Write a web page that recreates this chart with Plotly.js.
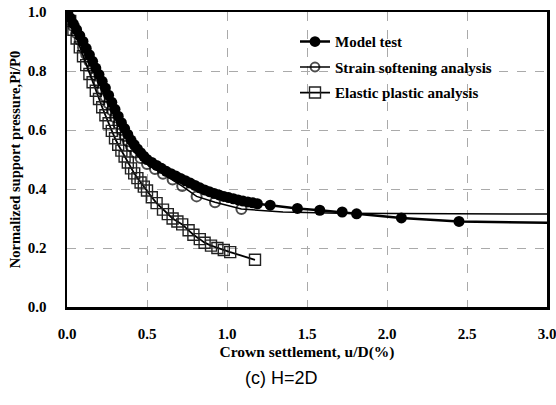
<!DOCTYPE html>
<html>
<head>
<meta charset="utf-8">
<script src="https://cdn.plot.ly/plotly-3.0.1.min.js"></script>
<style>html,body{margin:0;padding:0;background:#fff;}#chart{width:556px;height:405px;}</style>
</head>
<body>
<div id="chart"></div>
<script>
// Model test
const mtX = [0,0.02,0.04,0.06,0.08,0.10,0.12,0.14,0.16,0.18,0.20,0.22,0.24,0.26,0.28,0.30,0.32,0.34,0.36,0.38,0.40,0.42,0.44,0.46,0.48,0.50,
             0.53,0.56,0.59,0.62,0.65,0.68,0.71,0.74,0.77,0.80,0.83,0.86,0.89,0.92,0.95,0.98,1.01,1.04,1.07,1.10,1.13,1.16,1.19,
             1.27,1.44,1.58,1.72,1.81,2.09,2.45,3.05];
const mtY = [1.0,0.98,0.96,0.94,0.92,0.90,0.877,0.855,0.833,0.81,0.788,0.765,0.742,0.718,0.694,0.67,0.647,0.625,0.605,0.585,0.566,0.55,0.536,0.523,0.511,0.50,
             0.49,0.48,0.47,0.46,0.452,0.444,0.436,0.428,0.42,0.412,0.404,0.397,0.391,0.385,0.38,0.375,0.371,0.367,0.363,0.359,0.356,0.353,0.35,
             0.345,0.334,0.328,0.322,0.316,0.302,0.29,0.285];
// Strain softening analysis
const ssX = [0,0.02,0.04,0.06,0.08,0.10,0.12,0.14,0.16,0.18,0.20,0.22,0.24,0.26,0.28,0.30,0.32,0.34,0.36,0.38,0.40,0.43,0.46,0.50,0.55,0.60,0.66,0.72,0.81,0.925,1.09,1.35,1.7,2.2,3.05];
const ssY = [1.0,0.975,0.952,0.928,0.905,0.88,0.857,0.833,0.81,0.785,0.76,0.737,0.713,0.69,0.667,0.643,0.62,0.60,0.58,0.562,0.545,0.524,0.505,0.485,0.468,0.452,0.432,0.41,0.375,0.355,0.332,0.322,0.318,0.316,0.315];
// Elastic plastic analysis
const epX = [0,0.02,0.04,0.06,0.08,0.10,0.12,0.14,0.16,0.18,0.20,0.22,0.24,0.26,0.28,0.30,0.32,0.34,0.36,0.38,0.40,0.42,0.44,0.46,0.48,0.50,
             0.53,0.56,0.60,0.63,0.66,0.69,0.72,0.76,0.79,0.83,0.86,0.90,0.94,0.98,1.02,1.175];
const epY = [1.0,0.97,0.94,0.91,0.88,0.85,0.82,0.79,0.762,0.733,0.705,0.677,0.65,0.623,0.597,0.572,0.55,0.53,0.51,0.49,0.47,0.453,0.437,0.422,0.408,0.395,
             0.372,0.352,0.33,0.315,0.30,0.29,0.28,0.26,0.245,0.23,0.218,0.208,0.20,0.193,0.186,0.16];

const xTicks = [0,0.5,1.0,1.5,2.0,2.5,3.0];
const yTicks = [0,0.2,0.4,0.6,0.8,1.0];

function sizes(xs, last, s){ return xs.map(x => x > last ? 0 : s); }

const serif = 'Liberation Serif, Times New Roman, serif';

const traces = [
  {x: epX, y: epY, name: 'Elastic plastic analysis', mode: 'lines+markers',
   line: {color: '#000', width: 1.8},
   marker: {symbol: 'square-open', size: 11, color: '#222', line: {width: 1.4, color: '#222'}},
   legendgroup: 'c', legendrank: 3},
  {x: ssX, y: ssY, name: 'Strain softening analysis', mode: 'lines+markers',
   line: {color: '#000', width: 1.5},
   marker: {symbol: 'circle-open', size: sizes(ssX, 1.1, 10), color: '#000', line: {width: 2, color: '#000'}},
   legendgroup: 'b', legendrank: 2},
  {x: mtX, y: mtY, name: 'Model test', mode: 'lines+markers',
   line: {color: '#000', width: 2.5},
   marker: {symbol: 'circle', size: sizes(mtX, 2.5, 11), color: '#000', opacity: 1, line: {width: 0, color: '#000'}},
   legendgroup: 'a', legendrank: 1}
];

const layout = {
  width: 556, height: 405,
  margin: {l: 67, r: 9, t: 12, b: 98},
  paper_bgcolor: '#fff', plot_bgcolor: '#fff',
  showlegend: true,
  legend: {x: 0.475, y: 0.955, xanchor: 'left', yanchor: 'top', bgcolor: 'rgba(0,0,0,0)',
           font: {family: serif, size: 15, color: '#000', weight: 'bold'},
           traceorder: 'grouped', tracegroupgap: 3, itemwidth: 30},
  xaxis: {range: [0, 3.0], tickvals: xTicks, ticktext: xTicks.map(v => v.toFixed(1)),
          showgrid: true, gridcolor: '#aaa', griddash: 'dash', gridwidth: 1,
          showline: true, linecolor: '#000', linewidth: 2.5, mirror: true,
          zeroline: false, ticks: '', ticklabelstandoff: 11, ticklabeloverflow: 'allow',
          tickfont: {family: serif, size: 15, color: '#000', weight: 'bold'},
          title: {text: 'Crown settlement, u/D(%)', standoff: 6,
                  font: {family: serif, size: 15.5, color: '#000', weight: 'bold'}}},
  yaxis: {range: [0, 1.0], tickvals: yTicks, ticktext: yTicks.map(v => v.toFixed(1)),
          showgrid: true, gridcolor: '#aaa', griddash: 'dash', gridwidth: 1,
          showline: true, linecolor: '#000', linewidth: 2.5, mirror: true,
          zeroline: false, ticks: '', ticklabelstandoff: 15,
          tickfont: {family: serif, size: 15, color: '#000', weight: 'bold'},
          title: {text: 'Normalized support pressure,Pi/P0', standoff: 4,
                  font: {family: serif, size: 14.5, color: '#000', weight: 'bold'}}},
  annotations: [{text: '(c) H=2D', xref: 'paper', yref: 'paper', x: 0.446, y: -0.24,
                 xanchor: 'center', yanchor: 'middle', showarrow: false,
                 font: {family: 'Liberation Sans, Arial, sans-serif', size: 18, color: '#000'}}]
};

Plotly.newPlot('chart', traces, layout, {displayModeBar: false, staticPlot: true});
</script>
</body>
</html>
